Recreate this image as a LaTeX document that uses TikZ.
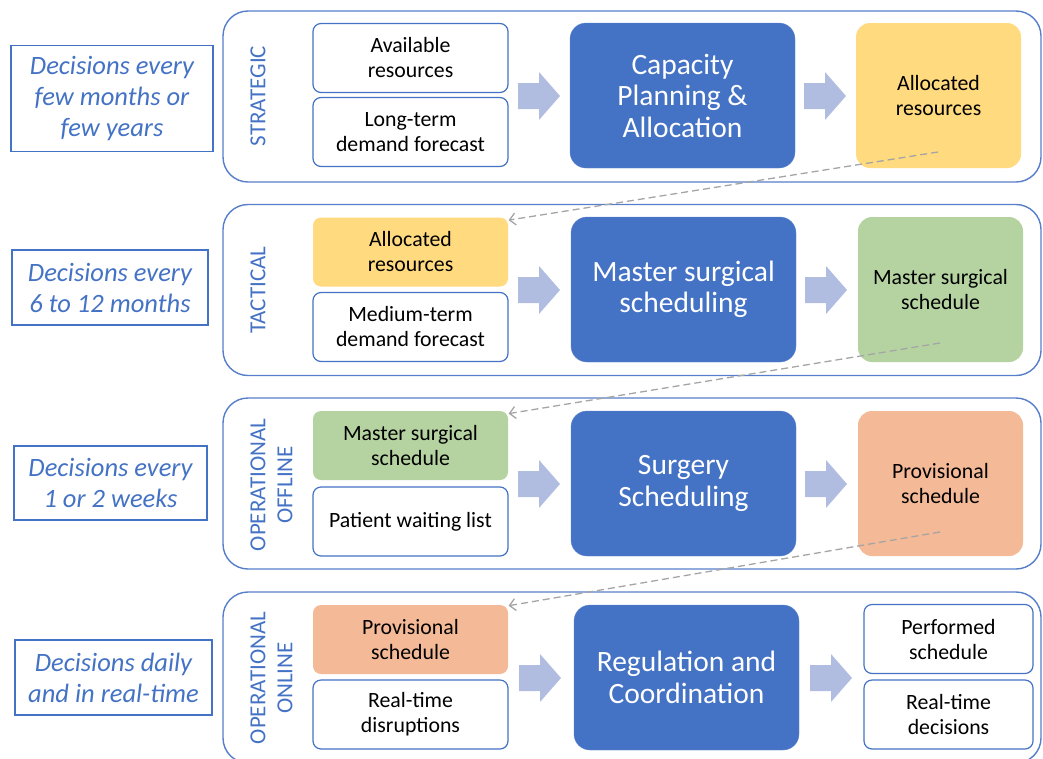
\documentclass[tikz,border=0pt]{standalone}
\usepackage{fontspec}
\setmainfont{Carlito}
\usetikzlibrary{arrows.meta}
\definecolor{orblue}{RGB}{68,114,196}
\definecolor{orframe}{RGB}{86,126,203}
\definecolor{orarrow}{RGB}{176,189,224}
\definecolor{orgrey}{RGB}{165,165,165}
\definecolor{oryellow}{RGB}{255,218,127}
\definecolor{orgreen}{RGB}{181,211,161}
\definecolor{ororange}{RGB}{244,185,150}

\begin{document}
\begin{tikzpicture}[
  x=1pt, y=-1pt,
  tier/.style={rectangle, rounded corners=25pt, draw=orframe, line width=1.4pt, minimum width=818pt, minimum height=171pt},
  horizon/.style={rectangle, draw=orblue, line width=1.4pt, align=center, inner sep=0pt, text=orblue, font=\fontsize{26.5}{31}\selectfont\itshape},
  level/.style={rotate=90, align=center, inner sep=0pt, text=orblue, font=\fontsize{23}{27}\selectfont},
  inbox/.style={rectangle, rounded corners=8pt, draw=orblue, line width=1.2pt, fill=white, minimum width=195pt, minimum height=69pt, align=center, inner sep=0pt, font=\fontsize{21.8}{25}\selectfont},
  procbox/.style={rectangle, rounded corners=16pt, draw=orblue!85!white, fill=orblue, text=white, minimum width=225pt, minimum height=145pt, align=center, inner sep=0pt, font=\fontsize{29.5}{31.5}\selectfont},
  outbox/.style={rectangle, rounded corners=14pt, minimum width=165pt, minimum height=145pt, align=center, inner sep=0pt, font=\fontsize{21.8}{25}\selectfont},
  feed/.style={-{Straight Barb[length=6pt,width=12pt]}, draw=orgrey, line width=1.3pt, dash pattern=on 7pt off 4pt},
  blockarrow/.pic={\fill[orarrow] (-21,-13) -- (0,-13) -- (0,-24) -- (21,0) -- (0,24) -- (0,13) -- (-21,13) -- cycle;}
]
\useasboundingbox (0,0) rectangle (1043,758);

% Tier frames
\node[tier] (row1) at (632,96.5) {};
\node[tier] (row2) at (632,290) {};
\node[tier] (row3) at (632,483.5) {};
\node[tier] (row4) at (632,677.5) {};

% Left column - decision horizons
\node[horizon, minimum width=202pt, minimum height=106pt] (h1) at (112,98.5) {Decisions every\\few months or\\few years};
\node[horizon, minimum width=196pt, minimum height=75pt] (h2) at (110,287.5) {Decisions every\\6 to 12 months};
\node[horizon, minimum width=193pt, minimum height=74pt] (h3) at (110.5,483) {Decisions every\\1 or 2 weeks};
\node[horizon, minimum width=197pt, minimum height=75pt] (h4) at (113.5,677.5) {Decisions daily\\and in real-time};

% Tier names
\node[level] (l1) at (258,96) {STRATEGIC};
\node[level] (l2) at (258,290) {TACTICAL};
\node[level] (l3) at (271.5,485) {OPERATIONAL\\OFFLINE};
\node[level] (l4) at (271.5,678) {OPERATIONAL\\ONLINE};

% Inputs
\node[inbox] (in1a) at (410.5,58) {Available\\resources};
\node[inbox] (in1b) at (410.5,132) {Long-term\\demand forecast};
\node[inbox, draw=none, fill=oryellow] (in2a) at (410.5,252) {Allocated\\resources};
\node[inbox] (in2b) at (410.5,327) {Medium-term\\demand forecast};
\node[inbox, draw=none, fill=orgreen] (in3a) at (410.5,445.5) {Master surgical\\schedule};
\node[inbox] (in3b) at (410.5,521.5) {Patient waiting list};
\node[inbox, draw=none, fill=ororange] (in4a) at (410.5,639.5) {Provisional\\schedule};
\node[inbox] (in4b) at (410.5,714.5) {Real-time\\disruptions};

% Processes
\node[procbox] (p1) at (682.5,95.5) {Capacity\\Planning \&\\Allocation};
\node[procbox] (p2) at (683.5,289.5) {Master surgical\\scheduling};
\node[procbox] (p3) at (683.5,483.5) {Surgery\\Scheduling};
\node[procbox] (p4) at (686.5,677.5) {Regulation and\\Coordination};

% Outputs
\node[outbox, fill=oryellow] (o1) at (938.5,95.5) {Allocated\\resources};
\node[outbox, fill=orgreen] (o2) at (940.5,289.5) {Master surgical\\schedule};
\node[outbox, fill=ororange] (o3) at (940.5,483.5) {Provisional\\schedule};
\node[inbox, minimum width=169pt] (o4a) at (948.5,639) {Performed\\schedule};
\node[inbox, minimum width=169pt] (o4b) at (948.5,714.5) {Real-time\\decisions};

% Block arrows
\pic at (539,96) {blockarrow};
\pic at (825,96) {blockarrow};
\pic at (539,290) {blockarrow};
\pic at (826,290) {blockarrow};
\pic at (539,484) {blockarrow};
\pic at (826,484) {blockarrow};
\pic at (540,678) {blockarrow};
\pic at (831,678) {blockarrow};

% Hand-over between tiers
\coordinate (d1) at (938,152);
\coordinate (d2) at (940,343);
\coordinate (d3) at (940,532);
\draw[feed] (d1) -- (in2a.18);
\draw[feed] (d2) -- (in3a.18);
\draw[feed] (d3) -- (in4a.19);

\end{tikzpicture}
\end{document}
